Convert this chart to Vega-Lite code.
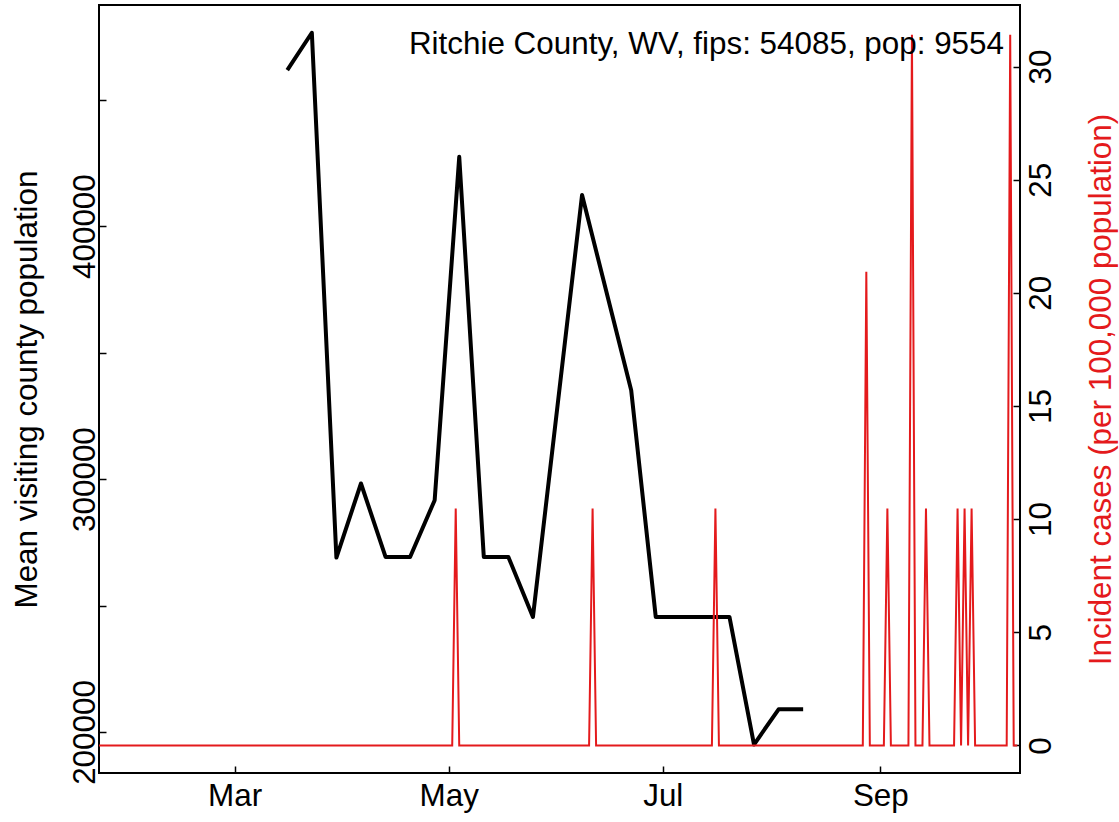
{
  "$schema": "https://vega.github.io/schema/vega-lite/v6.json",
  "width": 921,
  "height": 768,
  "autosize": "none",
  "padding": {"left": 99, "top": 5, "right": 99, "bottom": 49},
  "background": "white",
  "config": {
    "font": "Liberation Sans",
    "view": {"stroke": "black", "strokeWidth": 2},
    "axis": {
      "grid": false,
      "domain": false,
      "tickColor": "black",
      "tickWidth": 1.5,
      "tickSize": -7,
      "labelFontSize": 31.4,
      "labelColor": "black",
      "labelFont": "Liberation Sans",
      "titleFont": "Liberation Sans",
      "titleFontSize": 31.4,
      "titleFontWeight": "normal",
      "titleColor": "black",
      "labelOverlap": false,
      "labelFlush": false
    }
  },
  "title": {
    "text": "Ritchie County, WV, fips: 54085, pop: 9554",
    "anchor": "end",
    "frame": "group",
    "fontSize": 31.4,
    "fontWeight": "normal",
    "font": "Liberation Sans",
    "color": "black",
    "offset": 0,
    "dx": -16,
    "dy": 80,
    "baseline": "alphabetic"
  },
  "layer": [
    {
      "data": {
        "values": [
          {"date": "2020-03-16", "pop": 461690},
          {"date": "2020-03-23", "pop": 476440},
          {"date": "2020-03-30", "pop": 268970},
          {"date": "2020-04-06", "pop": 298240},
          {"date": "2020-04-13", "pop": 269210},
          {"date": "2020-04-20", "pop": 269210},
          {"date": "2020-04-27", "pop": 291640},
          {"date": "2020-05-04", "pop": 427410},
          {"date": "2020-05-11", "pop": 269210},
          {"date": "2020-05-18", "pop": 269210},
          {"date": "2020-05-25", "pop": 245480},
          {"date": "2020-06-08", "pop": 412260},
          {"date": "2020-06-22", "pop": 335140},
          {"date": "2020-06-29", "pop": 245480},
          {"date": "2020-07-06", "pop": 245480},
          {"date": "2020-07-13", "pop": 245480},
          {"date": "2020-07-20", "pop": 245480},
          {"date": "2020-07-27", "pop": 195020},
          {"date": "2020-08-03", "pop": 208980},
          {"date": "2020-08-10", "pop": 208980}
        ]
      },
      "mark": {"type": "line", "color": "black", "strokeWidth": 4, "strokeJoin": "round", "strokeCap": "butt", "clip": true},
      "encoding": {
        "x": {
          "field": "date",
          "type": "temporal",
          "scale": {"type": "utc", "domain": [1579681440000, 1602356400000]},
          "axis": {
            "orient": "bottom",
            "values": [1583020800000, 1588291200000, 1593561600000, 1598918400000],
            "labelExpr": "utcFormat(datum.value, '%b')",
            "labelPadding": 14,
            "labelBaseline": "top",
            "title": null
          }
        },
        "y": {
          "field": "pop",
          "type": "quantitative",
          "scale": {"domain": [183785, 487413], "nice": false, "zero": false},
          "axis": {
            "orient": "left",
            "values": [200000, 250000, 300000, 350000, 400000, 450000],
            "labelExpr": "datum.value % 100000 === 0 ? format(datum.value, 'd') : ''",
            "labelAngle": -90,
            "labelAlign": "center",
            "labelBaseline": "alphabetic",
            "labelPadding": 12,
            "title": "Mean visiting county population",
            "titleAngle": -90,
            "titleBaseline": "alphabetic",
            "titlePadding": 33
          }
        }
      }
    },
    {
      "data": {
        "values": [
          {"date": "2020-01-22", "cases": 0},
          {"date": "2020-05-02", "cases": 0},
          {"date": "2020-05-03", "cases": 10.467},
          {"date": "2020-05-04", "cases": 0},
          {"date": "2020-06-10", "cases": 0},
          {"date": "2020-06-11", "cases": 10.467},
          {"date": "2020-06-12", "cases": 0},
          {"date": "2020-07-15", "cases": 0},
          {"date": "2020-07-16", "cases": 10.467},
          {"date": "2020-07-17", "cases": 0},
          {"date": "2020-08-27", "cases": 0},
          {"date": "2020-08-28", "cases": 20.934},
          {"date": "2020-08-29", "cases": 0},
          {"date": "2020-09-02", "cases": 0},
          {"date": "2020-09-03", "cases": 10.467},
          {"date": "2020-09-04", "cases": 0},
          {"date": "2020-09-09", "cases": 0},
          {"date": "2020-09-10", "cases": 31.401},
          {"date": "2020-09-11", "cases": 0},
          {"date": "2020-09-13", "cases": 0},
          {"date": "2020-09-14", "cases": 10.467},
          {"date": "2020-09-15", "cases": 0},
          {"date": "2020-09-22", "cases": 0},
          {"date": "2020-09-23", "cases": 10.467},
          {"date": "2020-09-24", "cases": 0},
          {"date": "2020-09-25", "cases": 10.467},
          {"date": "2020-09-26", "cases": 0},
          {"date": "2020-09-27", "cases": 10.467},
          {"date": "2020-09-28", "cases": 0},
          {"date": "2020-10-07", "cases": 0},
          {"date": "2020-10-08", "cases": 31.401},
          {"date": "2020-10-09", "cases": 0},
          {"date": "2020-10-10", "cases": 0}
        ]
      },
      "mark": {"type": "line", "color": "#E41A1C", "strokeWidth": 2, "strokeJoin": "miter", "clip": true},
      "encoding": {
        "x": {"field": "date", "type": "temporal"},
        "y": {
          "field": "cases",
          "type": "quantitative",
          "scale": {"domain": [-1.22, 32.72], "nice": false, "zero": false},
          "axis": {
            "orient": "right",
            "values": [0, 5, 10, 15, 20, 25, 30],
            "format": "d",
            "labelAngle": -90,
            "labelAlign": "center",
            "labelBaseline": "top",
            "labelPadding": 12,
            "title": "Incident cases (per 100,000 population)",
            "titleColor": "#E41A1C",
            "titleAngle": -90,
            "titleBaseline": "top",
            "titlePadding": 29
          }
        }
      }
    }
  ],
  "resolve": {"scale": {"y": "independent"}, "axis": {"y": "independent"}}
}
